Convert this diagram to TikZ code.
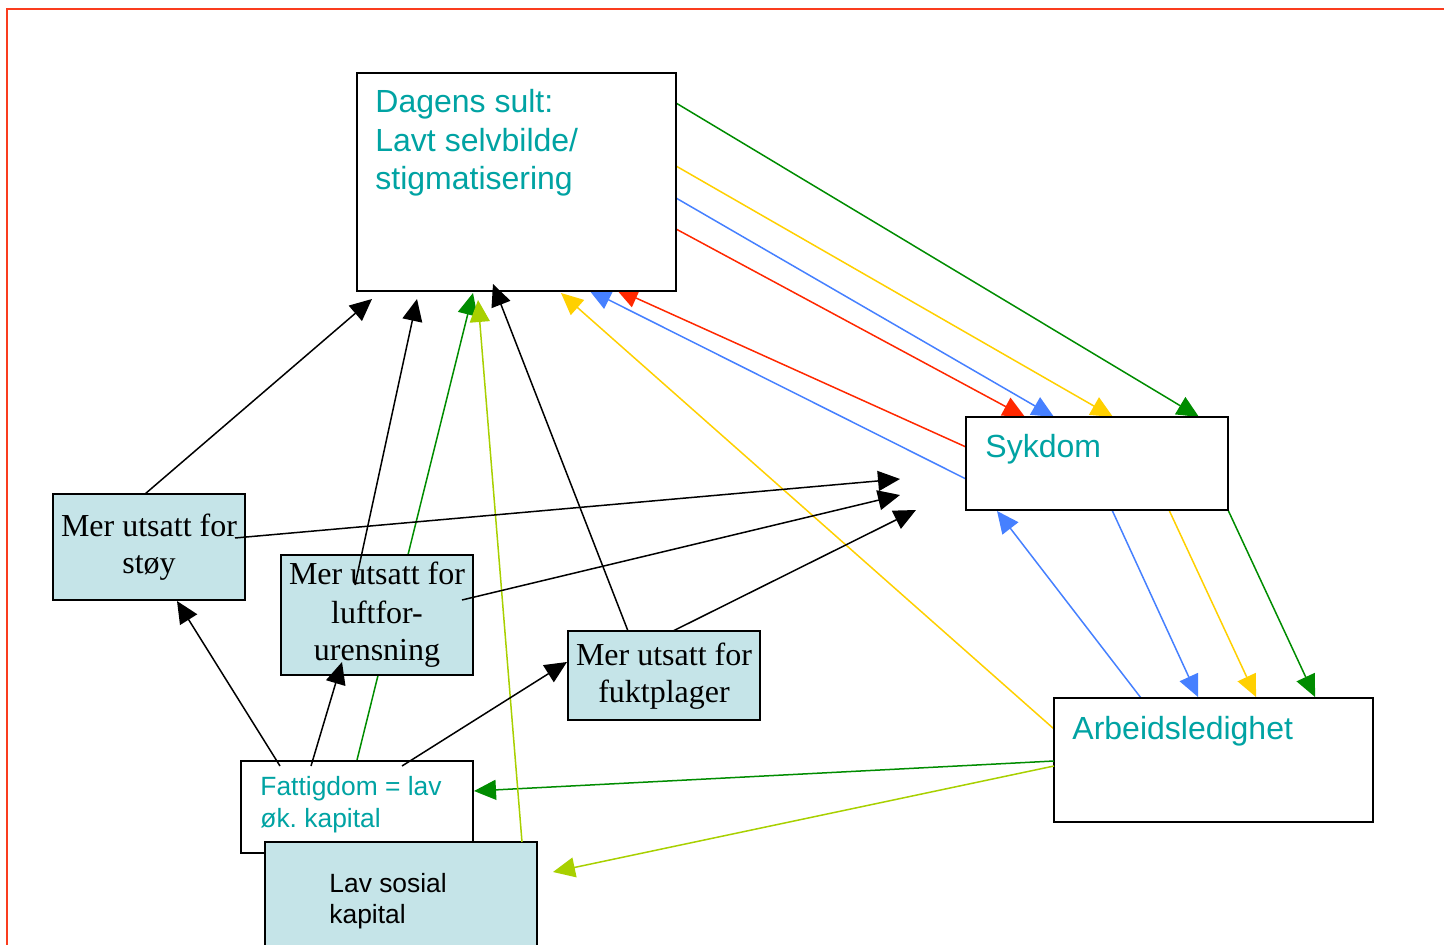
\documentclass[tikz,border=0pt]{standalone}
\usepackage{fontspec}
\setmainfont{Liberation Serif}
\newfontfamily\arialf{Liberation Sans}
\usetikzlibrary{arrows.meta,calc}
\definecolor{tealtxt}{RGB}{0,163,163}
\definecolor{boxblue}{RGB}{197,228,232}
\definecolor{cgreen}{RGB}{0,140,0}
\definecolor{cyellow}{RGB}{255,208,0}
\definecolor{cblue}{RGB}{70,128,255}
\definecolor{cred}{RGB}{255,40,0}
\definecolor{cyg}{RGB}{168,208,0}
\definecolor{framered}{RGB}{250,60,30}
\frenchspacing
\begin{document}
\begin{tikzpicture}[x=0.5pt,y=-0.5pt,
  wbox/.style={draw=black,line width=1pt,fill=white,inner sep=0pt,outer sep=0pt,anchor=north west},
  bbox/.style={wbox,fill=boxblue},
  conn/.style={line width=0.75pt,-{Triangle[length=11pt,width=10pt]}},
  tlab/.style={anchor=base west,inner sep=0pt,text=tealtxt,font=\arialf\fontsize{16pt}{19pt}\selectfont},
  slab/.style={anchor=base west,inner sep=0pt,font=\arialf\fontsize{13.2pt}{16pt}\selectfont},
  rlab/.style={anchor=base,inner sep=0pt,font=\fontsize{16pt}{19pt}\selectfont}
]
\useasboundingbox (0,0) rectangle (1444,945);
\clip (0,0) rectangle (1444,945);
\draw[framered,line width=1pt] (7,9) rectangle (1470,980);

\coordinate (dNW) at (357,73);
\coordinate (sNW) at (966,417);
\coordinate (aNW) at (1054,698);
\coordinate (pt1) at (900,479);
\coordinate (pt2) at (900,495);
\coordinate (pt3) at (916,510);

% Dagens -> Sykdom
\draw[conn,cgreen]  ($(dNW)+(319,30)$)  -- ($(sNW)+(233,0)$);
\draw[conn,cyellow] ($(dNW)+(319,93)$)  -- ($(sNW)+(147,0)$);
\draw[conn,cblue]   ($(dNW)+(319,125)$) -- ($(sNW)+(88,0)$);
\draw[conn,cred]    ($(dNW)+(319,156)$) -- ($(sNW)+(59,0)$);
% Sykdom -> Dagens
\draw[conn,cred]  ($(sNW)+(0,30)$) -- ($(dNW)+(259,216)$);
\draw[conn,cblue] ($(sNW)+(0,62)$) -- ($(dNW)+(232,217)$);
% Arbeidsledighet -> Dagens
\draw[conn,cyellow] ($(aNW)+(0,31)$) -- ($(dNW)+(204,220)$);
% Sykdom <-> Arbeidsledighet
\draw[conn,cblue]   ($(aNW)+(87,0)$)   -- ($(sNW)+(31,94)$);
\draw[conn,cblue]   ($(sNW)+(146,93)$) -- ($(aNW)+(144,-1)$);
\draw[conn,cyellow] ($(sNW)+(203,93)$) -- ($(aNW)+(202,-1)$);
\draw[conn,cgreen]  ($(sNW)+(262,93)$) -- ($(aNW)+(261,-1)$);

\node[wbox,minimum width=159.5pt,minimum height=109pt] (dagens) at (dNW) {};
\node[wbox,minimum width=131pt,minimum height=46.5pt] (sykdom) at (sNW) {};
\node[wbox,minimum width=159.5pt,minimum height=62pt] (arbeid) at (aNW) {};

\node[tlab] (d1) at ($(dagens.north west)+(18,40)$) {Dagens sult:};
\node[tlab] (d2) at ($(dagens.north west)+(18,79)$) {Lavt selvbilde/};
\node[tlab] (d3) at ($(dagens.north west)+(18,117)$) {stigmatisering};
\node[tlab] (s1) at ($(sykdom.north west)+(19,41)$) {Sykdom};
\node[tlab] (a1) at ($(arbeid.north west)+(18,41)$) {Arbeidsledighet};

\coordinate (fNW) at (241,761);
\coordinate (lNW) at (265,842);
% green Fattigdom -> Dagens (behind luftforurensning box)
\draw[conn,cgreen] ($(fNW)+(116,-1)$) -- ($(dagens.south west)+(116,2)$);

\node[wbox,minimum width=116pt,minimum height=46pt] (fattig) at (fNW) {};
\node[slab,text=tealtxt] (f1) at ($(fattig.north west)+(19,34)$) {Fattigdom = lav};
\node[slab,text=tealtxt] (f2) at ($(fattig.north west)+(19,66)$) {øk.\ kapital};

\node[bbox,minimum width=136pt,minimum height=70pt] (lav) at (lNW) {};
\node[slab,text=black] (l1) at ($(lav.north west)+(64,50)$) {Lav sosial};
\node[slab,text=black] (l2) at ($(lav.north west)+(64,81)$) {kapital};

% Arbeidsledighet -> Fattigdom / Lav sosial kapital; Lav sosial kapital -> Dagens
\draw[conn,cgreen] ($(arbeid.north west)+(0,63)$) -- ($(fattig.north east)+(1,30)$);
\draw[conn,cyg]    ($(arbeid.north west)+(0,68)$) -- ($(lav.north east)+(16,30)$);
\draw[conn,cyg]    ($(lav.north west)+(257,0)$) -- ($(dagens.south west)+(121,9)$);

% blue boxes
\node[bbox,minimum width=96pt,minimum height=53pt] (stoy) at (53,494) {};
\node[rlab] (st1) at ($(stoy.north west)+(96,43)$) {Mer utsatt for};
\node[rlab] (st2) at ($(stoy.north west)+(96,80)$) {støy};

\node[bbox,minimum width=96pt,minimum height=60pt] (luft) at (281,555) {};
\node[rlab] (lu1) at ($(luft.north west)+(96,30)$) {Mer utsatt for};
\node[rlab] (lu2) at ($(luft.north west)+(96,69)$) {luftfor-};
\node[rlab] (lu3) at ($(luft.north west)+(96,106)$) {urensning};

\node[bbox,minimum width=96pt,minimum height=44.5pt] (fukt) at (568,631) {};
\node[rlab] (fu1) at ($(fukt.north west)+(96,34)$) {Mer utsatt for};
\node[rlab] (fu2) at ($(fukt.north west)+(96,71)$) {fuktplager};

% black arrows
\draw[conn,black] ($(stoy.north west)+(92,0)$)  -- ($(dagens.south west)+(15,8)$);
\draw[conn,black] ($(stoy.north west)+(182,44)$) -- (pt1);
\draw[conn,black] ($(luft.north west)+(74,30)$)  -- ($(dagens.south west)+(60,8)$);
\draw[conn,black] ($(luft.north west)+(181,45)$) -- (pt2);
\draw[conn,black] ($(fukt.north west)+(60,0)$)   -- ($(dagens.south west)+(136,-7)$);
\draw[conn,black] ($(fukt.north west)+(105,0)$)  -- (pt3);
\draw[conn,black] ($(fattig.north west)+(39,5)$)  -- ($(stoy.south west)+(124,1)$);
\draw[conn,black] ($(fattig.north west)+(70,5)$)  -- ($(luft.south west)+(61,-13)$);
\draw[conn,black] ($(fattig.north west)+(161,5)$) -- ($(fukt.north west)+(-1,31)$);
\end{tikzpicture}
\end{document}
